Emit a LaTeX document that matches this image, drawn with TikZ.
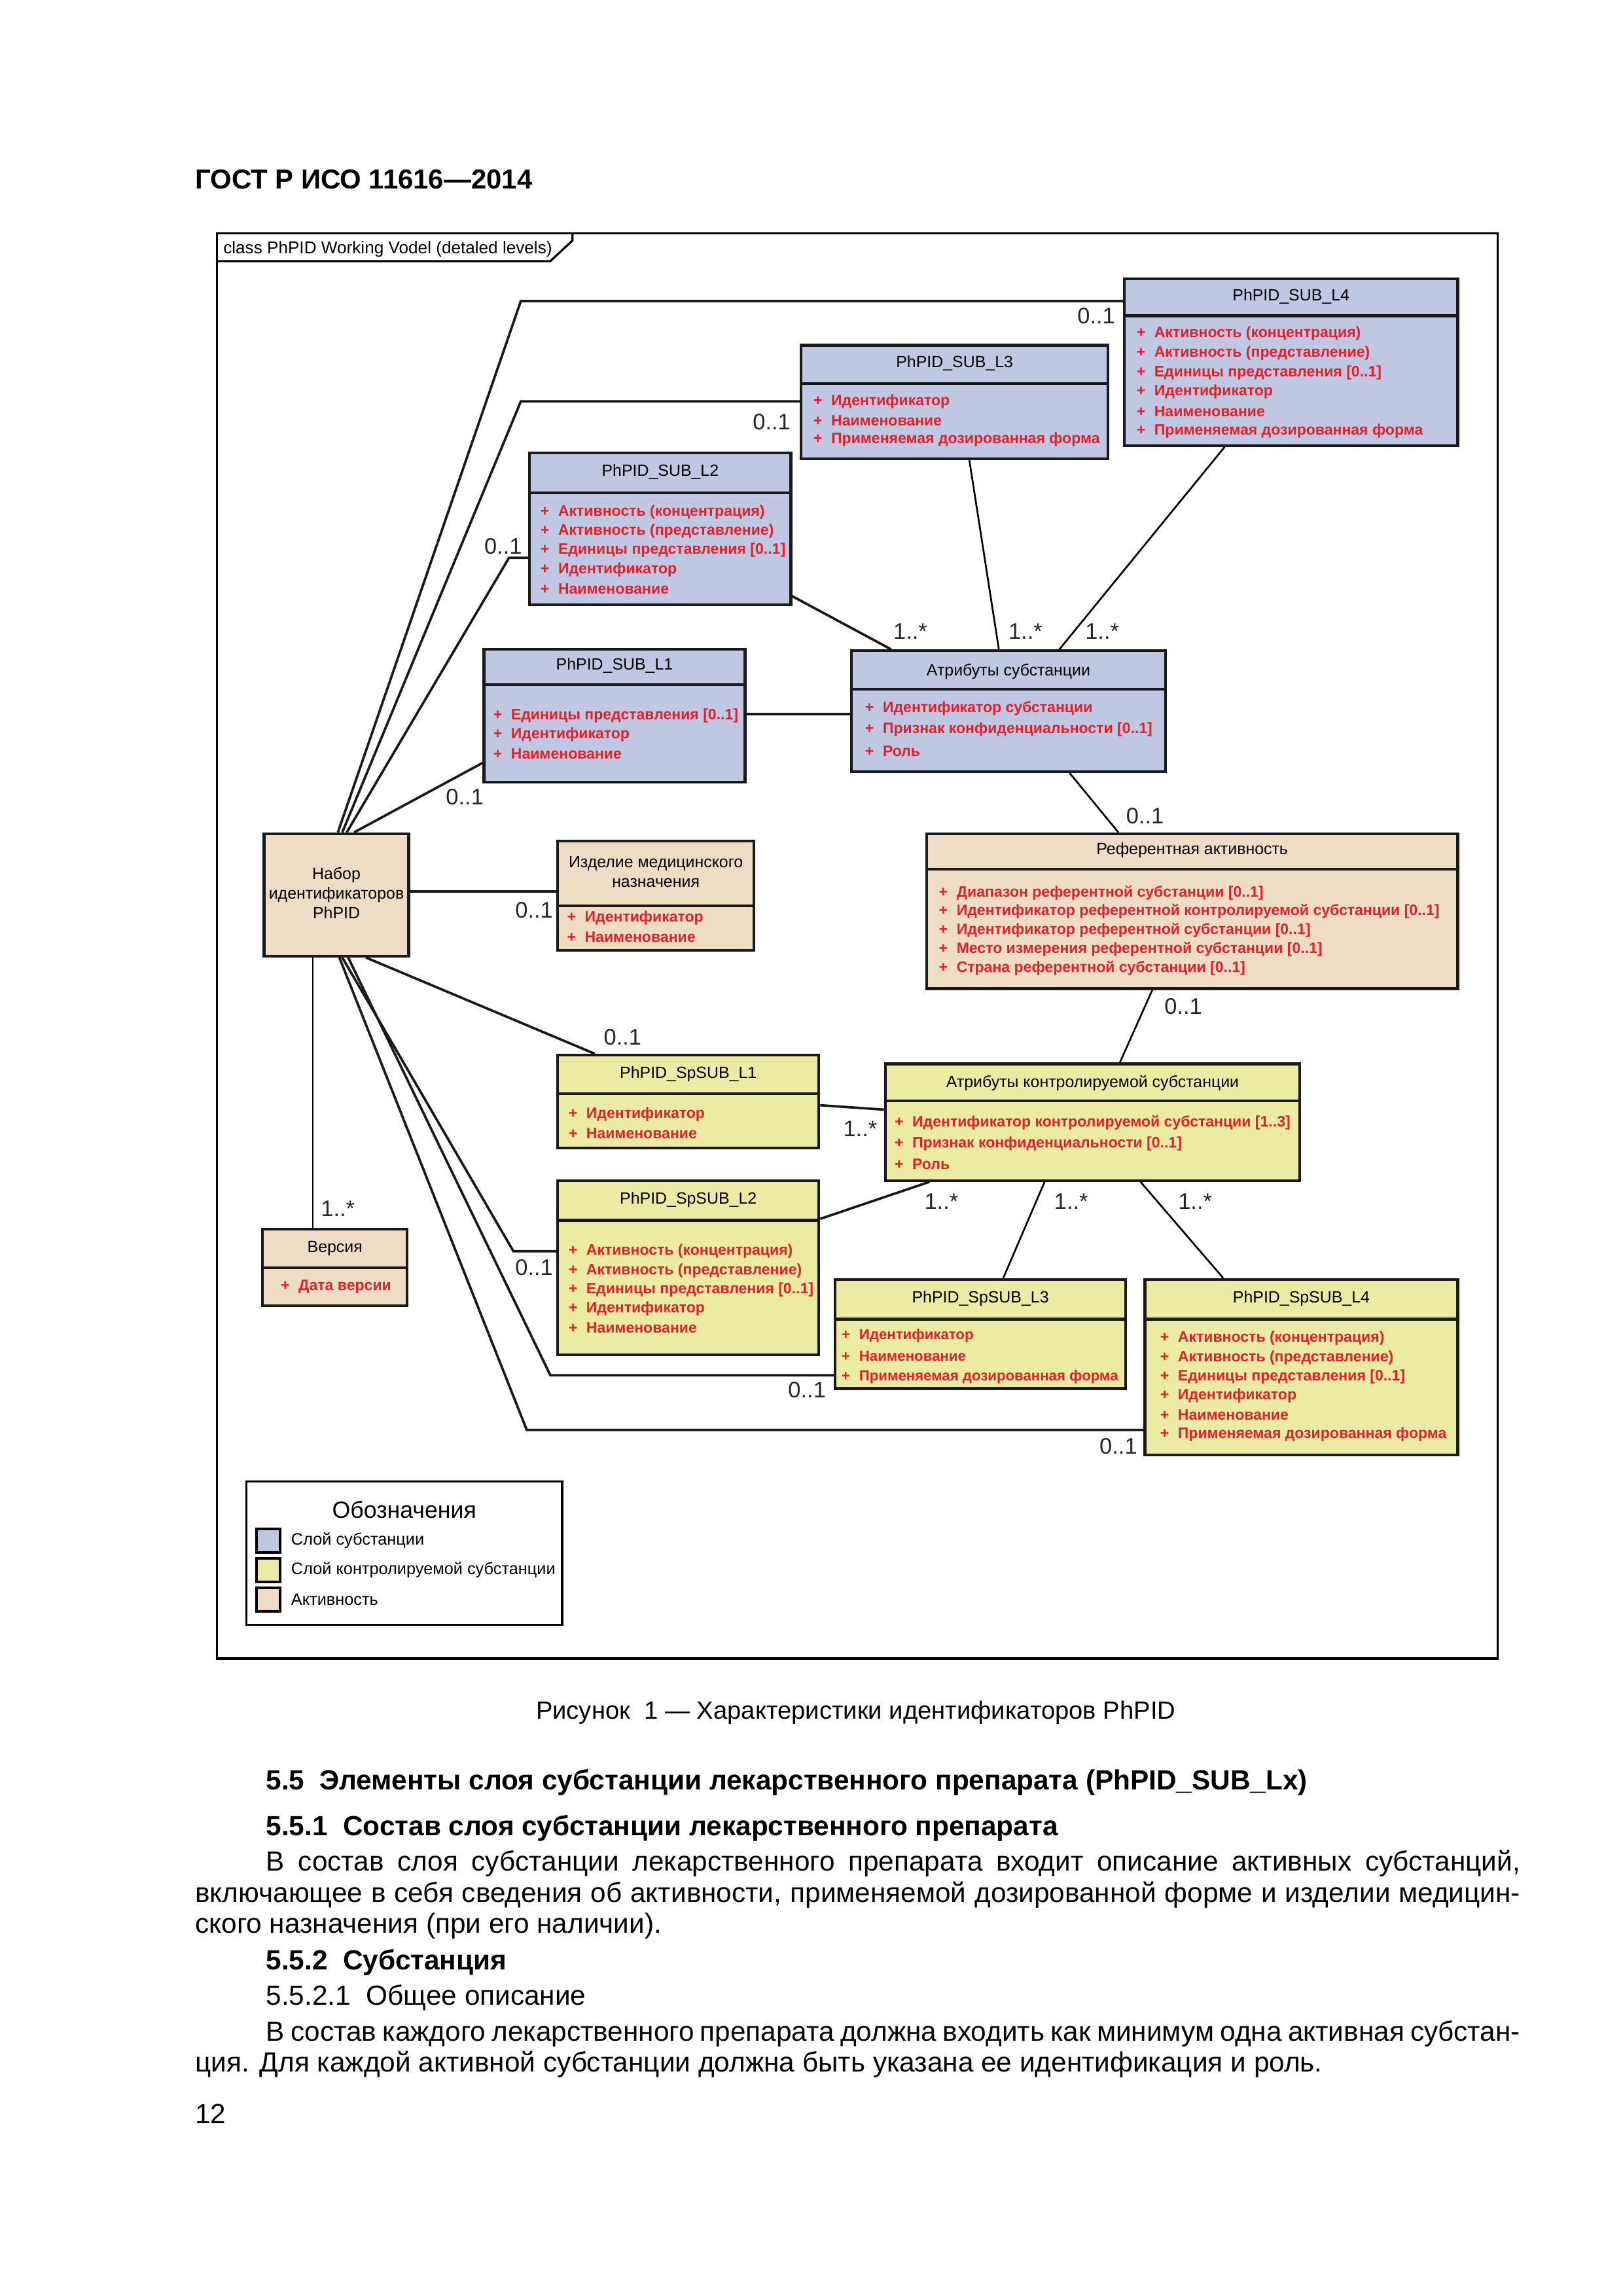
\documentclass[tikz,border=0pt]{standalone}
\usepackage{fontspec}
\setmainfont{Liberation Sans}
\usetikzlibrary{fit}

\definecolor{subfill}{HTML}{C0C7E3}
\definecolor{spfill}{HTML}{EBEBA3}
\definecolor{actfill}{HTML}{EEDCC4}
\definecolor{attrred}{HTML}{E3202A}

\newlength\un \setlength\un{0.190909mm}

% list of attributes: x, first y, step, list
\newcommand\attrlist[4]{%
  \foreach \t [count=\i from 0] in {#4}
    \node[attr] at (#1,#2+#3*\i) {\makebox[12\un][l]{+}\t};}

\tikzset{
  cls/.style={draw=black!90, line width=1pt, inner sep=0pt},
  sep/.style={line width=1pt, draw=black!90},
  ttl/.style={inner sep=0pt, font=\fontsize{6}{7.2}\selectfont, align=center},
  attr/.style={inner sep=0pt, anchor=west, text=attrred, font=\fontsize{5.55}{7}\selectfont\bfseries},
  assoc/.style={line width=0.9pt, draw=black!90},
  thin/.style={line width=0.65pt, draw=black},
  mult/.style={inner sep=0pt, text=black!85, font=\fontsize{8.3}{9.6}\selectfont},
  body/.style={inner sep=0pt, anchor=base west, font=\fontsize{10.2}{12}\selectfont},
  bodyb/.style={body, font=\fontsize{10.2}{12}\selectfont\bfseries},
}

\begin{document}
\begin{tikzpicture}[x=1\un, y=-1\un]
  \useasboundingbox (0,0) rectangle (1100,1556);

  \node[bodyb, font=\fontsize{10.1}{12}\selectfont\bfseries] (gost) at (132,128) {ГОСТ Р ИСО 11616—2014};

  % frame with tab
  \draw[line width=0.8pt] (147,158) rectangle (1015,1124);
  \draw[line width=0.8pt] (147,177) -- (373,177) -- (388,163) -- (388,158);
  \node[inner sep=0pt, anchor=west, font=\fontsize{6.3}{7.5}\selectfont] (tab) at (151,169) {class PhPID Working Vodel (detaled levels)};

  % substance layer
  \node[cls, fill=subfill, fit={(762,189) (988,302)}] (L4) {};
  \draw[sep] (L4.west |- 0,214) -- (L4.east |- 0,214);
  \node[ttl] at (L4.center |- 0,201) {PhPID\_SUB\_L4};
  \attrlist{770}{226}{13.2}{{Активность (концентрация)},{Активность (представление)},{Единицы представления [0..1]},Идентификатор,Наименование,{Применяемая дозированная форма}}

  \node[cls, fill=subfill, fit={(543,234) (751,311)}] (L3) {};
  \draw[sep] (L3.west |- 0,260) -- (L3.east |- 0,260);
  \node[ttl] at (L3.center |- 0,246) {PhPID\_SUB\_L3};
  \attrlist{551}{272}{13}{Идентификатор,Наименование,{Применяемая дозированная форма}}

  \node[cls, fill=subfill, fit={(359,307) (536,410)}] (L2) {};
  \draw[sep] (L2.west |- 0,334) -- (L2.east |- 0,334);
  \node[ttl] at (L2.center |- 0,320) {PhPID\_SUB\_L2};
  \attrlist{366}{347}{13}{{Активность (концентрация)},{Активность (представление)},{Единицы представления [0..1]},Идентификатор,Наименование}

  \node[cls, fill=subfill, fit={(328,440) (505,530)}] (L1) {};
  \draw[sep] (L1.west |- 0,464) -- (L1.east |- 0,464);
  \node[ttl] at (L1.center |- 0,451) {PhPID\_SUB\_L1};
  \attrlist{334}{485}{13}{{Единицы представления [0..1]},Идентификатор,Наименование}

  \node[cls, fill=subfill, fit={(577,441) (790,523)}] (AS) {};
  \draw[sep] (AS.west |- 0,467) -- (AS.east |- 0,467);
  \node[ttl] at (AS.center |- 0,455) {Атрибуты субстанции};
  \attrlist{586}{480}{14.5}{{Идентификатор субстанции},{Признак конфиденциальности [0..1]},Роль}

  % activity
  \node[cls, fill=actfill, fit={(179,565) (277,648)}] (NB) {};
  \node[ttl] at (228,605) {Набор\\идентификаторов\\PhPID};

  \node[cls, fill=actfill, fit={(378,570) (511,644)}] (MD) {};
  \draw[sep] (MD.west |- 0,614) -- (MD.east |- 0,614);
  \node[ttl] at (MD.center |- 0,591) {Изделие медицинского\\назначения};
  \attrlist{384}{622}{13}{Идентификатор,Наименование}

  \node[cls, fill=actfill, fit={(628,565) (988,670)}] (RA) {};
  \draw[sep] (RA.west |- 0,589) -- (RA.east |- 0,589);
  \node[ttl] at (RA.center |- 0,576) {Референтная активность};
  \attrlist{636}{605}{12.75}{{Диапазон референтной субстанции [0..1]},{Идентификатор референтной контролируемой субстанции [0..1]},{Идентификатор референтной субстанции [0..1]},{Место измерения референтной субстанции [0..1]},{Страна референтной субстанции [0..1]}}

  \node[cls, fill=actfill, fit={(178,833) (276,885)}] (VR) {};
  \draw[sep] (VR.west |- 0,859) -- (VR.east |- 0,859);
  \node[ttl] at (VR.center |- 0,846) {Версия};
  \attrlist{190}{872}{13}{{Дата версии}}

  % controlled substance layer
  \node[cls, fill=spfill, fit={(378,715) (555,778)}] (SP1) {};
  \draw[sep] (SP1.west |- 0,741) -- (SP1.east |- 0,741);
  \node[ttl] at (SP1.center |- 0,728) {PhPID\_SpSUB\_L1};
  \attrlist{385}{755}{13}{Идентификатор,Наименование}

  \node[cls, fill=spfill, fit={(600,721) (881,800)}] (CS) {};
  \draw[sep] (CS.west |- 0,746) -- (CS.east |- 0,746);
  \node[ttl] at (CS.center |- 0,734) {Атрибуты контролируемой субстанции};
  \attrlist{606}{761}{14}{{Идентификатор контролируемой субстанции [1..3]},{Признак конфиденциальности [0..1]},Роль}

  \node[cls, fill=spfill, fit={(378,800) (555,918)}] (SP2) {};
  \draw[sep] (SP2.west |- 0,827) -- (SP2.east |- 0,827);
  \node[ttl] at (SP2.center |- 0,813) {PhPID\_SpSUB\_L2};
  \attrlist{385}{848}{13}{{Активность (концентрация)},{Активность (представление)},{Единицы представления [0..1]},Идентификатор,Наименование}

  \node[cls, fill=spfill, fit={(566,867) (763,941)}] (SP3) {};
  \draw[sep] (SP3.west |- 0,894) -- (SP3.east |- 0,894);
  \node[ttl] at (SP3.center |- 0,880) {PhPID\_SpSUB\_L3};
  \begin{scope}[attr/.append style={font=\fontsize{5.35}{7}\selectfont\bfseries}]
    \attrlist{570}{905}{14}{Идентификатор,Наименование,{Применяемая дозированная форма}}
  \end{scope}

  \node[cls, fill=spfill, fit={(776,867) (988,986)}] (SP4) {};
  \draw[sep] (SP4.west |- 0,894) -- (SP4.east |- 0,894);
  \node[ttl] at (SP4.center |- 0,880) {PhPID\_SpSUB\_L4};
  \attrlist{786}{907}{13}{{Активность (концентрация)},{Активность (представление)},{Единицы представления [0..1]},Идентификатор,Наименование,{Применяемая дозированная форма}}

  % associations from the identifier set
  \draw[assoc] (NB.north -| 229,0) -- (353,204) -- (L4.west |- 0,204);
  \draw[assoc] (NB.north -| 232,0) -- (353,272) -- (L3.west |- 0,272);
  \draw[assoc] (NB.north -| 235,0) -- (345,378) -- (L2.west |- 0,378);
  \draw[assoc] (NB.north -| 240,0) -- (L1.west |- 0,517);
  \draw[assoc] (NB.east |- 0,604) -- (MD.west |- 0,604);
  \draw[assoc] (NB.south -| 248,0) -- (SP1.north -| 403,0);
  \draw[assoc] (NB.south -| 232,0) -- (348,848) -- (SP2.west |- 0,848);
  \draw[assoc] (NB.south -| 236,0) -- (373,932) -- (SP3.west |- 0,932);
  \draw[assoc] (NB.south -| 230,0) -- (357,969) -- (SP4.west |- 0,969);
  \draw[thin] (NB.south -| 212,0) -- (VR.north -| 212,0);
  % associations to the attributes
  \draw[assoc] (L2.east |- 0,404) -- (AS.north -| 604,0);
  \draw[thin] (L3.south -| 657,0) -- (AS.north -| 677,0);
  \draw[thin] (L4.south -| 830,0) -- (AS.north -| 718,0);
  \draw[assoc] (L1.east |- 0,484) -- (AS.west |- 0,484);
  \draw[thin] (AS.south -| 725,0) -- (RA.north -| 758,0);
  \draw[thin] (RA.south -| 781,0) -- (CS.north -| 759,0);
  \draw[assoc] (SP1.east |- 0,749) -- (CS.west |- 0,752);
  \draw[assoc] (SP2.east |- 0,826) -- (CS.south -| 630,0);
  \draw[thin] (SP3.north -| 680,0) -- (CS.south -| 708,0);
  \draw[thin] (SP4.north -| 829,0) -- (CS.south -| 773,0);

  % multiplicities
  \foreach \x/\y/\m in {743/214/0..1, 523/286/0..1, 341/370/0..1, 315/540/0..1,
      362/617/0..1, 422/703/0..1, 362/859/0..1, 547/942/0..1, 758/980/0..1,
      229/819/1..*, 617/428/1..*, 695/428/1..*, 747/428/1..*, 776/553/0..1,
      802/682/0..1, 583/765/1..*, 638/814/1..*, 726/814/1..*, 810/814/1..*}
    \node[mult] at (\x,\y) {\m};

  % legend
  \node[draw, line width=0.8pt, inner sep=0pt, fit={(167,1004) (381,1101)}] (leg) {};
  \node[inner sep=0pt, font=\fontsize{8.6}{10}\selectfont] at (274,1023) {Обозначения};
  \foreach \c/\t [count=\i from 0] in {subfill/Слой субстанции, spfill/Слой контролируемой субстанции, actfill/Активность} {
    \draw[line width=1pt, fill=\c] (174,1036+20*\i) rectangle (190,1052+20*\i);
    \node[inner sep=0pt, anchor=west, font=\fontsize{6.1}{7.5}\selectfont] at (197,1044+20*\i) {\t};
  }

  % text of the page
  \node[body, anchor=base, font=\fontsize{9.2}{11}\selectfont] (cap) at (580,1165) {Рисунок~~1 — Характеристики идентификаторов PhPID};
  \node[bodyb] (h55) at (180,1213) {5.5~~Элементы слоя субстанции лекарственного препарата (PhPID\_SUB\_Lx)};
  \node[bodyb] (h551) at (180,1244) {5.5.1~~Состав слоя субстанции лекарственного препарата};
  \node[body] (p1a) at (180,1268) {\makebox[850\un][s]{В состав слоя субстанции лекарственного препарата входит описание активных субстанций,}};
  \node[body] (p1b) at (132,1289) {\makebox[898\un][s]{включающее в себя сведения об активности, применяемой дозированной форме и изделии медицин-}};
  \node[body] (p1c) at (132,1310) {ского назначения (при его наличии).};
  \node[bodyb] (h552) at (180,1335) {5.5.2~~Субстанция};
  \node[body] (h5521) at (180,1359) {5.5.2.1~~Общее описание};
  \node[body] (p2a) at (180,1383) {\makebox[850\un][s]{В состав каждого лекарственного препарата должна входить как минимум одна активная субстан-}};
  \node[body] (p2b) at (132,1404) {ция. Для каждой активной субстанции должна быть указана ее идентификация и роль.};
  \node[body] (pg) at (132,1439) {12};
\end{tikzpicture}
\end{document}
